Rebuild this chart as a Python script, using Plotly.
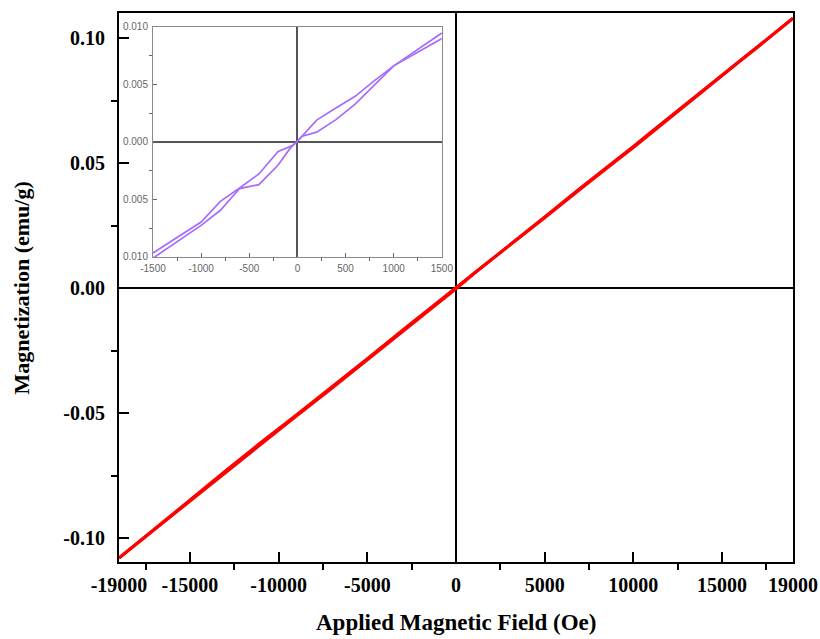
import plotly.graph_objects as go

# ---------------- data ----------------
# Main M-H loop (two nearly overlapping branches)
field_down = [19000, 17000, 16000, 15000, 13000, 11000, 10000, 9000, 8000, 7000, 5000, 3000, 1000, 0,
              -1000, -3000, -5000, -7000, -9000, -10000, -11000, -13000, -15000, -17000, -19000]
mag_down = [0.1079, 0.0966, 0.0910, 0.0853, 0.0737, 0.0624, 0.0566, 0.0510, 0.0456, 0.0399, 0.0284, 0.0171, 0.0060, 0.0002,
            -0.0055, -0.0168, -0.0283, -0.0397, -0.0508, -0.0563, -0.0618, -0.0732, -0.0848, -0.0963, -0.1080]
field_up = [-19000, -17000, -15000, -13000, -11000, -10000, -9000, -7000, -5000, -3000, -1000, 0,
            1000, 3000, 5000, 7000, 8000, 9000, 10000, 11000, 13000, 15000, 16000, 17000, 19000]
mag_up = [-0.1080, -0.0966, -0.0852, -0.0738, -0.0624, -0.0567, -0.0512, -0.0401, -0.0287, -0.0173, -0.0061, -0.0003,
          0.0057, 0.0168, 0.0281, 0.0395, 0.0452, 0.0507, 0.0562, 0.0620, 0.0734, 0.0850, 0.0907, 0.0963, 0.1079]

# Inset (low-field region)
inset_field_a = [1500, 1000, 800, 600, 400, 200, 0, -50, -200, -400, -600, -800, -1000, -1500]
inset_mag_a = [0.00948, 0.00662, 0.00533, 0.00397, 0.00296, 0.00190, 0.00005, -0.00030, -0.00082, -0.00278, -0.00400, -0.00516, -0.00696, -0.00965]
inset_field_b = [-1500, -1000, -800, -600, -400, -200, -80, 50, 200, 400, 600, 800, 1000, 1500]
inset_mag_b = [-0.01010, -0.00725, -0.00594, -0.00405, -0.00371, -0.00200, -0.00060, 0.00050, 0.00086, 0.00194, 0.00330, 0.00499, 0.00662, 0.00899]

x_tickvals = [-19000, -15000, -10000, -5000, 0, 5000, 10000, 15000, 19000]
x_ticktext = ["-19000", "-15000", "-10000", "-5000", "0", "5000", "10000", "15000", "19000"]
x_minor = [-17500, -12500, -7500, -2500, 2500, 7500, 12500, 17500]
y_tickvals = [-0.10, -0.05, 0.0, 0.05, 0.10]
y_ticktext = ["-0.10", "-0.05", "0.00", "0.05", "0.10"]
y_minor = [-0.075, -0.025, 0.025, 0.075]

ix_tickvals = [-1500, -1000, -500, 0, 500, 1000, 1500]
ix_ticktext = ["-1500", "-1000", "-500", "0", "500", "1000", "1500"]
ix_minor = [-1250, -750, -250, 250, 750, 1250]
iy_tickvals = [-0.010, -0.005, 0.0, 0.005, 0.010]
iy_ticktext = ["0.010", "0.005", "0.000", "0.005", "0.010"]
iy_minor = [-0.0075, -0.0025, 0.0025, 0.0075]

# ---------------- figure ----------------
fig = go.Figure()
red = "#ff0000"
purple = "#a66cff"
fig.add_trace(go.Scatter(x=field_down, y=mag_down, mode="lines", line=dict(color=red, width=3),
                         showlegend=False, xaxis="x", yaxis="y"))
fig.add_trace(go.Scatter(x=field_up, y=mag_up, mode="lines", line=dict(color=red, width=3),
                         showlegend=False, xaxis="x", yaxis="y"))
fig.add_trace(go.Scatter(x=inset_field_a, y=inset_mag_a, mode="lines", line=dict(color=purple, width=1.7),
                         showlegend=False, xaxis="x2", yaxis="y2"))
fig.add_trace(go.Scatter(x=inset_field_b, y=inset_mag_b, mode="lines", line=dict(color=purple, width=1.7),
                         showlegend=False, xaxis="x2", yaxis="y2"))

serif = "Liberation Serif"
tickfont = dict(family=serif, size=20, color="black", weight="bold")

fig.update_layout(
    width=820, height=639,
    margin=dict(l=119, r=27, t=13, b=77, autoexpand=False),
    paper_bgcolor="white", plot_bgcolor="white",
    xaxis=dict(
        domain=[0, 1], anchor="y", automargin=False,
        range=[-19000, 19000], tickmode="array", tickvals=x_tickvals, ticktext=x_ticktext,
        ticks="inside", ticklen=10, tickwidth=2, tickcolor="black",
        minor=dict(tickmode="array", tickvals=x_minor, ticks="outside", ticklen=6, tickwidth=2, tickcolor="black"),
        showline=True, linecolor="black", linewidth=2, mirror=True,
        showgrid=False, zeroline=True, zerolinecolor="black", zerolinewidth=2,
        tickfont=tickfont, ticklabelstandoff=4,
    ),
    yaxis=dict(
        domain=[0, 1], anchor="x", automargin=False,
        range=[-0.1096, 0.1100], tickmode="array", tickvals=y_tickvals, ticktext=y_ticktext,
        ticks="inside", ticklen=10, tickwidth=2, tickcolor="black",
        minor=dict(tickmode="array", tickvals=y_minor, ticks="outside", ticklen=6, tickwidth=2, tickcolor="black"),
        showline=True, linecolor="black", linewidth=2, mirror=True,
        showgrid=False, zeroline=True, zerolinecolor="black", zerolinewidth=2,
        tickfont=tickfont, ticklabelstandoff=8,
    ),
    xaxis2=dict(
        domain=[0.0504, 0.479], anchor="y2", automargin=False,
        range=[-1500, 1500], tickmode="array", tickvals=ix_tickvals, ticktext=ix_ticktext,
        ticks="inside", ticklen=4, tickwidth=1, tickcolor="#666666",
        minor=dict(tickmode="array", tickvals=ix_minor, ticks="outside", ticklen=3, tickwidth=1, tickcolor="#666666"),
        showline=True, linecolor="#8a8a8a", linewidth=1, mirror=True,
        showgrid=False, zeroline=True, zerolinecolor="#555555", zerolinewidth=1.5,
        tickfont=dict(family="Liberation Sans", size=10, color="#666666"), ticklabelstandoff=2,
    ),
    yaxis2=dict(
        domain=[0.5556, 0.9745], anchor="x2", automargin=False,
        range=[-0.010, 0.010], tickmode="array", tickvals=iy_tickvals, ticktext=iy_ticktext,
        ticks="inside", ticklen=4, tickwidth=1, tickcolor="#666666",
        minor=dict(tickmode="array", tickvals=iy_minor, ticks="outside", ticklen=3, tickwidth=1, tickcolor="#666666"),
        showline=True, linecolor="#8a8a8a", linewidth=1, mirror=True,
        showgrid=False, zeroline=True, zerolinecolor="#555555", zerolinewidth=1.5,
        tickfont=dict(family="Liberation Sans", size=10, color="#666666"), ticklabelstandoff=2,
    ),
    annotations=[
        dict(text="<b>Applied Magnetic Field (Oe)</b>", xref="paper", yref="paper",
             x=0.5, y=-0.111, xanchor="center", yanchor="middle", showarrow=False,
             font=dict(family=serif, size=23, color="black")),
        dict(text="<b>Magnetization (emu/g)</b>", xref="paper", yref="paper",
             x=-0.144, y=0.5, xanchor="center", yanchor="middle", showarrow=False, textangle=-90,
             font=dict(family=serif, size=22, color="black")),
    ],
)

fig.write_html("out.html")
